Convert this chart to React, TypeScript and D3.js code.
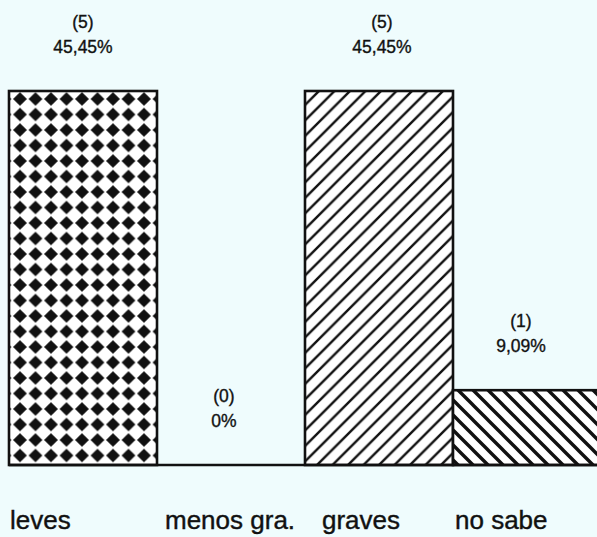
import React from "react";
import * as d3 from "d3";

const categories = ["leves", "menos gra.", "graves", "no sabe"];
const counts = [5, 0, 5, 1];
const percents = [45.45, 0, 45.45, 9.09];
const percentLabels = ["45,45%", "0%", "45,45%", "9,09%"];
const fills = ["url(#diamonds)", "none", "url(#hatchUp)", "url(#hatchDown)"];

// layout nudges (scan offsets)
const topLabelDx = [0, -7, 3, -6];
const bottomLabelDx = [1, 8, 17, 2];

const W = 597;
const H = 537;
const BASE = 465;
const BG = "#effcfd";
const INK = "#111";

export default function App() {
  const x = d3.scaleBand<string>().domain(categories).range([9, 601]).padding(0);
  const y = d3.scaleLinear().domain([0, 45.45]).range([BASE, 91]);
  const font = "'Liberation Sans', Arial, Helvetica, sans-serif";
  const s = 15.5;
  const r = 6.9;
  return (
    <svg
      width={W}
      height={H}
      style={{ position: "absolute", left: 0, top: 0, background: BG }}
    >
      <defs>
        <pattern id="diamonds" patternUnits="userSpaceOnUse" width={s} height={s} x={20 - s / 2} y={99 - s / 2}>
          <rect width={s} height={s} fill="#fff" />
          <path
            d={`M${s / 2},${s / 2 - r} L${s / 2 + r},${s / 2} L${s / 2},${s / 2 + r} L${s / 2 - r},${s / 2} Z`}
            fill={INK}
          />
        </pattern>
        <pattern id="hatchUp" patternUnits="userSpaceOnUse" width={15.5} height={15.5} x={7} y={0}>
          <rect width={15.5} height={15.5} fill="#fff" />
          <path d="M-4,4 L4,-4 M0,15.5 L15.5,0 M11.5,19.5 L19.5,11.5" stroke={INK} strokeWidth={2.4} />
        </pattern>
        <pattern id="hatchDown" patternUnits="userSpaceOnUse" width={15} height={15} x={8} y={0}>
          <rect width={15} height={15} fill="#fff" />
          <path d="M-4,11 L4,19 M0,0 L15,15 M11,-4 L19,4" stroke={INK} strokeWidth={3.4} />
        </pattern>
      </defs>
      <rect width={W} height={H} fill={BG} />
      {categories.map((c, i) => {
        const x0 = x(c)!;
        const yTop = y(percents[i]);
        const h = BASE - yTop;
        return (
          <g key={c}>
            {h > 0 && (
              <rect
                x={x0}
                y={yTop}
                width={x.bandwidth()}
                height={h}
                fill={fills[i]}
                stroke={INK}
                strokeWidth={2.6}
              />
            )}
          </g>
        );
      })}
      <line x1={x(categories[0])!} x2={W} y1={BASE} y2={BASE} stroke={INK} strokeWidth={2.6} />
      {categories.map((c, i) => {
        const cx = x(c)! + x.bandwidth() / 2 + topLabelDx[i];
        const yTop = y(percents[i]);
        return (
          <g key={"l" + c} fontFamily={font} fontSize={17.5} fill={INK} stroke={INK} strokeWidth={0.35} textAnchor="middle">
            <text x={cx} y={yTop - 63}>{`(${counts[i]})`}</text>
            <text x={cx} y={yTop - 38}>{percentLabels[i]}</text>
          </g>
        );
      })}
      {categories.map((c, i) => (
        <text
          key={"b" + c}
          x={x(c)! + bottomLabelDx[i]}
          y={529}
          fontFamily={font}
          fontSize={26}
          fill={INK}
          stroke={INK}
          strokeWidth={0.4}
        >
          {c}
        </text>
      ))}
    </svg>
  );
}
